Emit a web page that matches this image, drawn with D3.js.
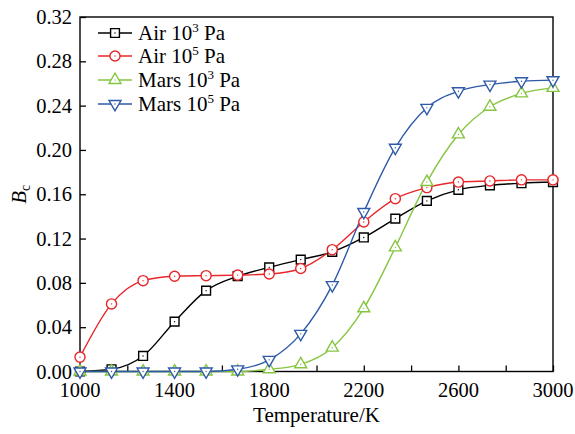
<!DOCTYPE html>
<html>
<head>
<meta charset="utf-8">
<script src="https://cdn.jsdelivr.net/npm/d3@7"></script>
<style>
  body { margin: 0; background: #fff; }
  text { font-family: "Liberation Serif", "Times New Roman", serif; }
</style>
</head>
<body>
<div id="chart"></div>
<script>
const temps = [1000, 1133.3, 1266.7, 1400, 1533.3, 1666.7, 1800, 1933.3, 2066.7, 2200, 2333.3, 2466.7, 2600, 2733.3, 2866.7, 3000];
const air3 = [0.000, 0.002, 0.014, 0.045, 0.073, 0.086, 0.094, 0.101, 0.108, 0.121, 0.138, 0.154, 0.164, 0.168, 0.170, 0.171];
const air5 = [0.013, 0.061, 0.082, 0.086, 0.0865, 0.087, 0.088, 0.093, 0.110, 0.135, 0.156, 0.166, 0.171, 0.172, 0.173, 0.173];
const mars3 = [0.000, 0.000, 0.000, 0.000, 0.000, 0.000, 0.002, 0.0065, 0.0215, 0.057, 0.112, 0.171, 0.214, 0.239, 0.251, 0.256];
const mars5 = [0.000, 0.000, 0.000, 0.000, 0.000, 0.002, 0.0105, 0.034, 0.078, 0.144, 0.202, 0.238, 0.253, 0.259, 0.262, 0.263];
const xTicks = [1000, 1200, 1400, 1600, 1800, 2000, 2200, 2400, 2600, 2800, 3000];
const xLabels = [1000, 1400, 1800, 2200, 2600, 3000];
const yTicks = [0, 0.04, 0.08, 0.12, 0.16, 0.2, 0.24, 0.28, 0.32];

const series = [
  { name: "Air 10", sup: "3", values: air3, color: "#000000", shape: "square" },
  { name: "Air 10", sup: "5", values: air5, color: "#e8262a", shape: "circle" },
  { name: "Mars 10", sup: "3", values: mars3, color: "#86c540", shape: "up" },
  { name: "Mars 10", sup: "5", values: mars5, color: "#2e5aa8", shape: "down" },
];

const width = 575;
const height = 434;
const margin = { top: 17, right: 22, bottom: 62.5, left: 80 };

const svg = d3
  .select("#chart")
  .append("svg")
  .attr("width", width)
  .attr("height", height);

const x = d3.scaleLinear().domain([1000, 3000]).range([margin.left, width - margin.right]);
const y = d3.scaleLinear().domain([0, 0.32]).range([height - margin.bottom, margin.top]);

// axes, ticks pointing inward
svg
  .append("g")
  .attr("transform", `translate(0, ${height - margin.bottom})`)
  .call(d3.axisBottom(x).tickValues(xTicks).tickSizeInner(-6).tickSizeOuter(0).tickFormat(""))
  .call((g) => g.select(".domain").remove())
  .call((g) => g.selectAll("line").attr("stroke", "#000").attr("stroke-width", 1.3));

svg
  .append("g")
  .attr("transform", `translate(${margin.left}, 0)`)
  .call(d3.axisLeft(y).tickValues(yTicks).tickSizeInner(-6).tickSizeOuter(0).tickFormat(""))
  .call((g) => g.select(".domain").remove())
  .call((g) => g.selectAll("line").attr("stroke", "#000").attr("stroke-width", 1.3));

svg
  .selectAll(".xlabel")
  .data(xLabels)
  .enter()
  .append("text")
  .attr("x", (d) => x(d))
  .attr("y", 397)
  .attr("text-anchor", "middle")
  .style("font-size", "20.5px")
  .text((d) => d);

svg
  .selectAll(".ylabel")
  .data(yTicks)
  .enter()
  .append("text")
  .attr("x", 72)
  .attr("y", (d) => y(d))
  .attr("dy", "0.35em")
  .attr("text-anchor", "end")
  .style("font-size", "20.5px")
  .text((d) => d.toFixed(2));

svg
  .append("rect")
  .attr("x", margin.left)
  .attr("y", margin.top)
  .attr("width", width - margin.left - margin.right)
  .attr("height", height - margin.top - margin.bottom)
  .attr("fill", "none")
  .attr("stroke", "#000")
  .attr("stroke-width", 1.4);

// axis titles
svg
  .append("text")
  .attr("x", (margin.left + width - margin.right) / 2)
  .attr("y", 422)
  .attr("text-anchor", "middle")
  .style("font-size", "21px")
  .text("Temperature/K");

const yTitle = svg
  .append("text")
  .attr("transform", `translate(26, ${(margin.top + height - margin.bottom) / 2}) rotate(-90)`)
  .attr("text-anchor", "middle")
  .style("font-size", "21px");
yTitle.append("tspan").style("font-style", "italic").text("B");
yTitle.append("tspan").attr("dy", 4).style("font-size", "14px").text("c");

const symbolFor = (shape) => {
  if (shape === "square") return d3.symbol(d3.symbolSquare, 78)();
  if (shape === "circle") return d3.symbol(d3.symbolCircle, 80)();
  return d3.symbol(d3.symbolTriangle, 62)();
};

const line = d3
  .line()
  .x((d, i) => x(temps[i]))
  .y((d) => y(d))
  .curve(d3.curveMonotoneX);

series.forEach((s) => {
  svg
    .append("path")
    .attr("d", line(s.values))
    .attr("fill", "none")
    .attr("stroke", s.color)
    .attr("stroke-width", 1.4);
});

const drawMarker = (g, s, cx, cy) => {
  g.append("path")
    .attr("d", symbolFor(s.shape))
    .attr("transform", `translate(${cx}, ${cy})${s.shape === "down" ? " rotate(180)" : ""}`)
    .attr("fill", "#fff")
    .attr("stroke", s.color)
    .attr("stroke-width", 1.4);
  g.append("circle")
    .attr("cx", cx)
    .attr("cy", cy)
    .attr("r", 0.7)
    .attr("fill", s.color);
};

series.forEach((s) => {
  const g = svg.append("g");
  s.values.forEach((v, i) => drawMarker(g, s, x(temps[i]), y(v)));
});

// legend
const legendY = [33, 56, 80, 104];
series.forEach((s, i) => {
  const g = svg.append("g");
  g.append("line")
    .attr("x1", 98)
    .attr("x2", 132)
    .attr("y1", legendY[i])
    .attr("y2", legendY[i])
    .attr("stroke", s.color)
    .attr("stroke-width", 1.4);
  drawMarker(g, s, 115, legendY[i]);
  const t = g
    .append("text")
    .attr("x", 138)
    .attr("y", legendY[i])
    .attr("dy", "0.35em")
    .style("font-size", "21px");
  t.append("tspan").text(s.name);
  t.append("tspan").attr("dy", -8).style("font-size", "13px").text(s.sup);
  t.append("tspan").attr("dy", 8).text(" Pa");
});
</script>
</body>
</html>
